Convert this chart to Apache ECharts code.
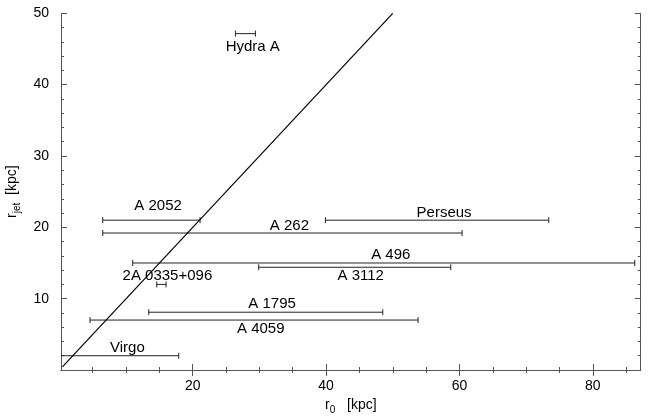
<!DOCTYPE html>
<html><head><meta charset="utf-8">
<script src="https://cdn.jsdelivr.net/npm/echarts@6/dist/echarts.min.js"></script>
<style>html,body{margin:0;padding:0;background:#fff}#c{width:650px;height:416px}</style>
</head><body><div id="c"></div>
<script>
// ---- data ----
const names  = ['Hydra A','A 2052','A 262','Perseus','A 496','A 3112','2A 0335+096','A 1795','A 4059','Virgo'];
const rJet   = [47.15, 21.0, 19.2, 21.0, 15.0, 14.4, 12.0, 8.1, 7.0, 2.0];
const r0Low  = [26.4, 6.5, 6.5, 39.9, 11.0, 29.9, 14.6, 13.4, 4.6, 0.0];
const r0High = [29.4, 21.1, 60.4, 73.4, 86.3, 58.7, 16.0, 48.5, 53.8, 17.9];
const labelX = [29.0, 14.8, 34.5, 57.7, 49.7, 45.2, 16.2, 31.9, 30.2, 10.2];
const labelY = [45.35, 23.06, 20.27, 22.06, 16.07, 13.14, 13.14, 9.21, 5.72, 3.08];
const diagX  = [0.45, 50];
const diagY  = [0.45, 50];
const xTickLabels = [20, 40, 60, 80];
const yTickLabels = [10, 20, 30, 40, 50];
const xMin = 0.24, xMax = 87.19, yMin = 0, yMax = 50;

const xMinor = []; for (let v = 5; v < xMax; v += 5) xMinor.push(v);
const yMinor = []; for (let v = 2; v < yMax; v += 2) yMinor.push(v);

const FONT = '"Liberation Sans", Arial, Helvetica, sans-serif';
const AXC = '#555';

function xAx(pos, major, withLabels) {
  return {
    type: 'value', position: pos, min: xMin, max: xMax, gridIndex: 0,
    axisLine: { show: !major, lineStyle: { color: AXC, width: 1 } },
    axisTick: { show: true, inside: true, length: major ? 6 : 3,
      customValues: major ? xTickLabels : xMinor, lineStyle: { color: AXC, width: 1 } },
    axisLabel: withLabels ? { show: true, customValues: xTickLabels, fontSize: 14, color: '#000',
      fontFamily: FONT, margin: 9 } : { show: false },
    splitLine: { show: false }
  };
}
function yAx(pos, major, withLabels) {
  return {
    type: 'value', position: pos, min: yMin, max: yMax, gridIndex: 0,
    axisLine: { show: !major, lineStyle: { color: AXC, width: 1 } },
    axisTick: { show: true, inside: true, length: major ? 6 : 3,
      customValues: major ? yTickLabels : yMinor, lineStyle: { color: AXC, width: 1 } },
    axisLabel: withLabels ? { show: true, customValues: yTickLabels, fontSize: 14, color: '#000',
      fontFamily: FONT, margin: 12 } : { show: false },
    splitLine: { show: false }
  };
}

const xBottom = xAx('bottom', false, true);
xBottom.name = '{m|r}{s|0}{m|   [kpc]}';
xBottom.nameLocation = 'middle';
xBottom.nameGap = 25;
xBottom.nameTextStyle = { fontFamily: FONT, color: '#000',
  rich: { m: { fontSize: 14, lineHeight: 20, fontFamily: FONT, color: '#000' },
          s: { fontSize: 10, lineHeight: 10, verticalAlign: 'bottom', fontFamily: FONT, color: '#000' } } };

const yLeft = yAx('left', false, true);
yLeft.name = '{m|r}{s|jet}{m|  [kpc]}';
yLeft.nameLocation = 'middle';
yLeft.nameRotate = 90;
yLeft.nameGap = 37;
yLeft.nameTextStyle = { fontFamily: FONT, color: '#000',
  rich: { m: { fontSize: 14, lineHeight: 20, fontFamily: FONT, color: '#000' },
          s: { fontSize: 10, lineHeight: 10, verticalAlign: 'bottom', fontFamily: FONT, color: '#000' } } };

const barData = names.map((n, i) => [r0Low[i], r0High[i], rJet[i]]);
const labelData = names.map((n, i) => [labelX[i], labelY[i], n]);

const chart = echarts.init(document.getElementById('c'), null, { renderer: 'canvas' });
chart.setOption({
  animation: false,
  backgroundColor: '#fff',
  grid: { left: 61, right: 9.3, top: 13.3, bottom: 46, containLabel: false, outerBoundsMode: 'none' },
  xAxis: [xBottom, xAx('bottom', true, false), xAx('top', false, false), xAx('top', true, false)],
  yAxis: [yLeft, yAx('left', true, false), yAx('right', false, false), yAx('right', true, false)],
  series: [
    {
      type: 'line', xAxisIndex: 0, yAxisIndex: 0, symbol: 'none', silent: true,
      data: diagX.map((x, i) => [x, diagY[i]]),
      lineStyle: { color: '#000', width: 1.2 }
    },
    {
      type: 'custom', xAxisIndex: 0, yAxisIndex: 0, clip: true, silent: true,
      data: barData,
      encode: { x: [0, 1], y: 2 },
      renderItem: function (params, api) {
        const lo = api.coord([api.value(0), api.value(2)]);
        const hi = api.coord([api.value(1), api.value(2)]);
        const c = 3;
        const st = { stroke: '#222', lineWidth: 1 };
        return { type: 'group', children: [
          { type: 'line', shape: { x1: lo[0], y1: lo[1], x2: hi[0], y2: hi[1] }, style: st },
          { type: 'line', shape: { x1: lo[0], y1: lo[1] - c, x2: lo[0], y2: lo[1] + c }, style: st },
          { type: 'line', shape: { x1: hi[0], y1: hi[1] - c, x2: hi[0], y2: hi[1] + c }, style: st }
        ] };
      }
    },
    {
      type: 'custom', xAxisIndex: 0, yAxisIndex: 0, silent: true,
      data: labelData,
      encode: { x: 0, y: 1 },
      renderItem: function (params, api) {
        const p = api.coord([api.value(0), api.value(1)]);
        return { type: 'text', x: p[0], y: p[1],
          style: { text: labelData[params.dataIndex][2], fill: '#000', font: '15px ' + FONT,
                   textAlign: 'center', textVerticalAlign: 'middle' } };
      }
    }
  ]
});
</script>
</body></html>
